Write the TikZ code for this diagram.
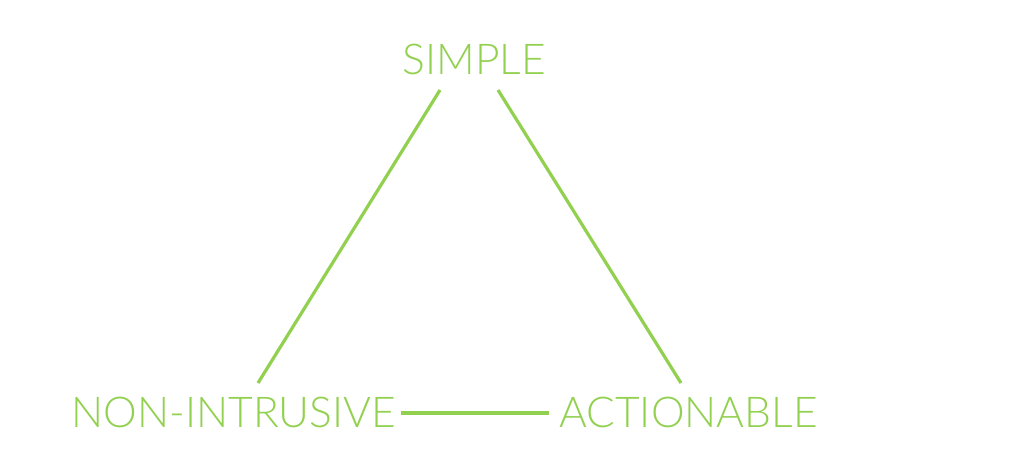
\documentclass[tikz,border=0pt]{standalone}
\usepackage{fontspec}
\setmainfont{Lato Light}
\definecolor{lime}{RGB}{146,208,80}
\begin{document}
\begin{tikzpicture}[x=1pt,y=-1pt,
  lbl/.style={text=lime,font=\fontsize{42.5}{42.5}\selectfont,inner sep=0pt,anchor=base},
  link/.style={draw=lime,line width=3.2pt}]
\useasboundingbox (0,0) rectangle (1024,458);
\node[lbl] (simple) at (474.5,74) {SIMPLE};
\node[lbl] (nonint) at (234,427) {NON-INTRUSIVE};
\node[lbl] (action) at (688.5,427) {ACTIONABLE};
\coordinate (s1) at (440,90);
\coordinate (s2) at (498,90);
\coordinate (n1) at (258,383);
\coordinate (n2) at (401,413);
\coordinate (a1) at (681,383);
\coordinate (a2) at (549,413);
\draw[link] (s1) -- (n1);
\draw[link] (s2) -- (a1);
\draw[link] (n2) -- (a2);
\end{tikzpicture}
\end{document}
